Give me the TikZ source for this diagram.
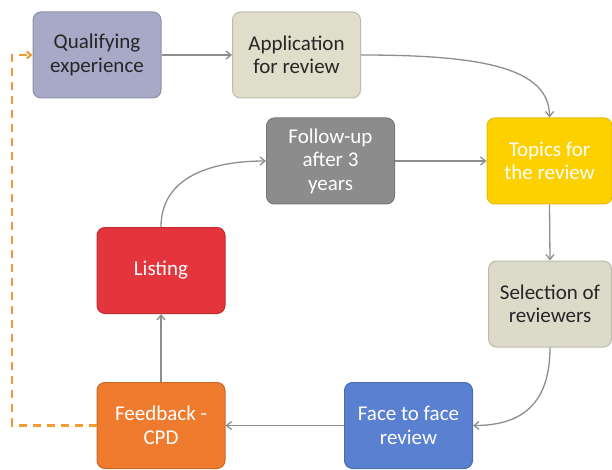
\documentclass[tikz,border=0pt]{standalone}
\usepackage{fontspec}
\setmainfont{Carlito}
\usetikzlibrary{arrows.meta}
\definecolor{qualC}{HTML}{A7A9C6}
\definecolor{applC}{HTML}{DFDECB}
\definecolor{follC}{HTML}{8C8C8C}
\definecolor{topC}{HTML}{FDD000}
\definecolor{listC}{HTML}{E4343C}
\definecolor{selC}{HTML}{DCDBCA}
\definecolor{faceC}{HTML}{5A80D2}
\definecolor{feedC}{HTML}{EF7B2E}
\definecolor{arrowC}{HTML}{8E8E8E}
\definecolor{dashC}{HTML}{F09A38}
\definecolor{txtC}{HTML}{262626}
\begin{document}
\begin{tikzpicture}[x=1pt,y=-1pt,
  box/.style={rounded corners=8pt, minimum width=128pt, minimum height=86pt,
    align=center, font=\fontsize{21}{23.5}\selectfont, inner sep=0pt, line width=1pt},
  lightbox/.style={box, text=txtC},
  darkbox/.style={box, text=white},
  conn/.style={draw=arrowC, line width=1.3pt, -{Straight Barb[length=5pt,width=8pt]}},
  fbline/.style={draw=dashC, line width=2.2pt, dash pattern=on 8pt off 6pt, -{Straight Barb[length=4pt,width=7pt]}}]
\useasboundingbox (0,0) rectangle (612,470);
\node[lightbox, fill=qualC, draw=qualC!85!black] (q) at (97,55) {Qualifying\\experience};
\node[lightbox, fill=applC, draw=applC!85!black] (a) at (296.5,55) {Application\\for review};
\node[darkbox, fill=follC, draw=follC!85!black] (f) at (330.5,161) {Follow-up\\after 3\\years};
\node[darkbox, fill=topC, draw=topC!90!black, minimum width=125pt] (t) at (549.5,161) {Topics for\\the review};
\node[darkbox, fill=listC, draw=listC!85!black] (l) at (161,270.5) {Listing};
\node[lightbox, fill=selC, draw=selC!85!black, minimum width=123pt] (s) at (550,304) {Selection of\\reviewers};
\node[darkbox, fill=faceC, draw=faceC!85!black] (fa) at (408.5,425.5) {Face to face\\review};
\node[darkbox, fill=feedC, draw=feedC!85!black] (fe) at (161,425.5) {Feedback -\\CPD};
\coordinate (d2) at (12,55);
\draw[conn] (q.east) -- (a.west);
\draw[conn] (a.east) .. controls +(120,0) and +(0,-50) .. (t.north);
\draw[conn] (t.south) -- (s.north);
\draw[conn] (s.south) .. controls +(0,60) and +(45,0) .. (fa.east);
\draw[conn] (fa.west) -- (fe.east);
\draw[conn] (fe.north) -- (l.south);
\draw[conn] (l.north) .. controls +(0,-50) and +(-55,0) .. (f.west);
\draw[conn] (f.east) -- (t.west);
\draw[fbline] (fe.west) -| (d2) -- (q.west);
\end{tikzpicture}
\end{document}
